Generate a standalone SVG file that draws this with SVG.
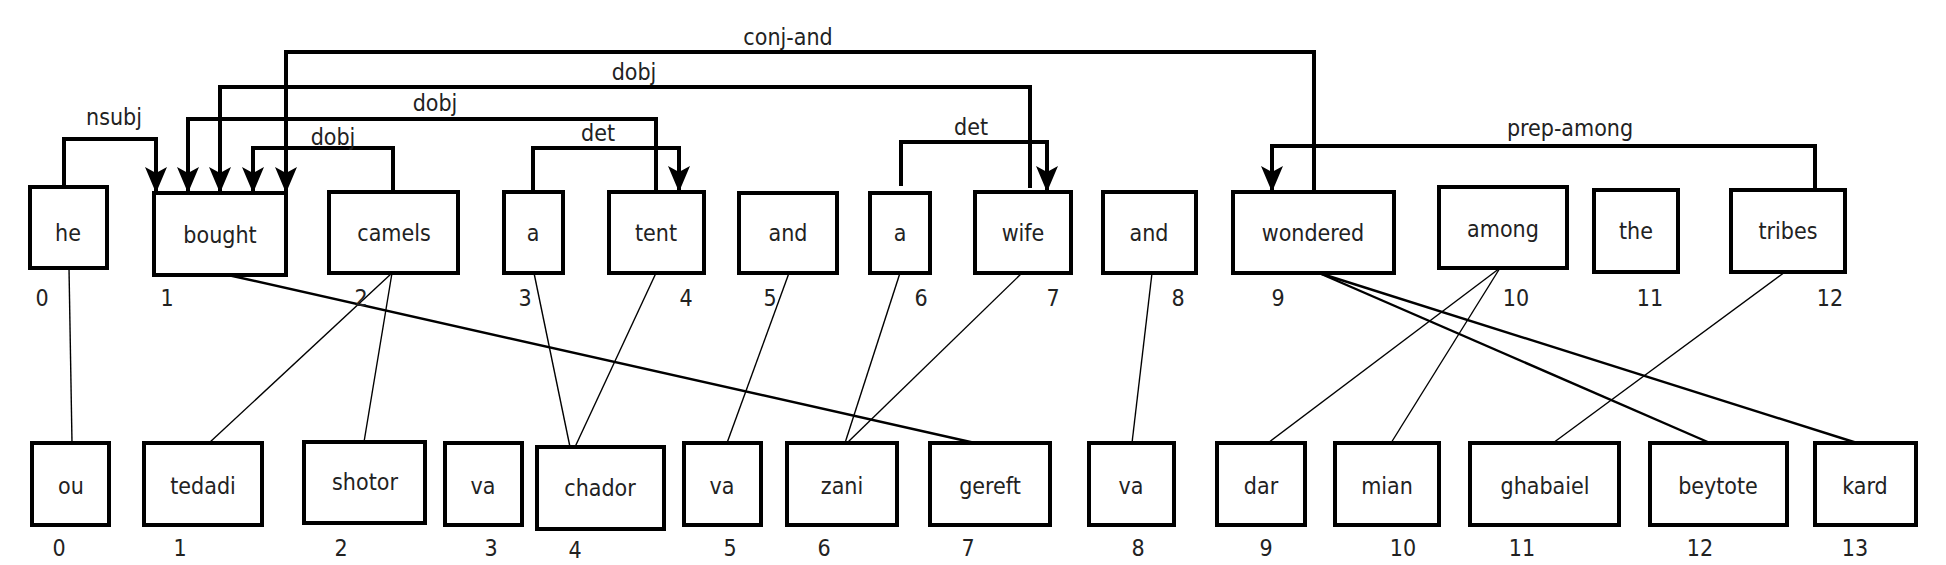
<svg xmlns="http://www.w3.org/2000/svg" width="1946" height="565" viewBox="0 0 1946 565">
<style>
.b{fill:#fff;stroke:#000;stroke-width:4}
.t{font-family:"DejaVu Sans Condensed","DejaVu Sans",sans-serif;font-size:23px;fill:#222;text-anchor:middle}
.e{fill:none;stroke:#000;stroke-width:4;marker-end:url(#ah)}
.al{fill:none;stroke:#000;stroke-width:1.4}
.ab{fill:none;stroke:#000;stroke-width:2.4}
</style>
<defs>
<marker id="ah" markerUnits="userSpaceOnUse" viewBox="0 0 26 22" refX="26" refY="11" markerWidth="26" markerHeight="22" orient="auto">
<path d="M0,0 L6,11 L0,22 L26,11 Z" fill="#000"/>
</marker>
</defs>
<rect width="1946" height="565" fill="#fff"/>
<g id="align">
<line class="al" x1="69" y1="268" x2="72" y2="443"/>
<line class="ab" x1="228" y1="275" x2="975" y2="443"/>
<line class="al" x1="392" y1="273" x2="209" y2="443"/>
<line class="al" x1="392" y1="273" x2="364" y2="442"/>
<line class="al" x1="534" y1="273" x2="570" y2="447"/>
<line class="al" x1="656" y1="273" x2="575" y2="447"/>
<line class="al" x1="789" y1="273" x2="727" y2="443"/>
<line class="al" x1="900" y1="273" x2="845" y2="443"/>
<line class="al" x1="1022" y1="273" x2="847" y2="443"/>
<line class="al" x1="1152" y1="273" x2="1132" y2="443"/>
<line class="ab" x1="1319" y1="273" x2="1710" y2="443"/>
<line class="ab" x1="1319" y1="273" x2="1857" y2="443"/>
<line class="al" x1="1500" y1="268" x2="1268" y2="443"/>
<line class="al" x1="1500" y1="268" x2="1391" y2="443"/>
<line class="al" x1="1785" y1="272" x2="1553" y2="443"/>
</g>
<g id="connectors">
<path class="e" d="M64,187 V139 H156 V193"/>
<path class="e" d="M393,192 V148 H253 V193"/>
<path class="e" d="M656,192 V119 H188 V193"/>
<path class="e" d="M1030,188 V87 H220 V193"/>
<path class="e" d="M1314,192 V52 H286 V193"/>
<path class="e" d="M533,192 V148 H679 V192"/>
<path class="e" d="M901,186 V142 H1047 V192"/>
<path class="e" d="M1815,190 V146 H1272 V192"/>
<text class="t" x="114" y="125">nsubj</text>
<text class="t" x="333" y="145">dobj</text>
<text class="t" x="435" y="111">dobj</text>
<text class="t" x="634" y="80">dobj</text>
<text class="t" x="788" y="45">conj-and</text>
<text class="t" x="598" y="141">det</text>
<text class="t" x="971" y="135">det</text>
<text class="t" x="1570" y="136">prep-among</text>
</g>
<g id="n_he"><rect class="b" x="30" y="187" width="77" height="81"/><text class="t" x="68" y="241">he</text><text class="t" x="42" y="306">0</text></g>
<g id="n_bought"><rect class="b" x="154" y="193" width="132" height="82"/><text class="t" x="220" y="243">bought</text><text class="t" x="167" y="306">1</text></g>
<g id="n_camels"><rect class="b" x="329" y="192" width="129" height="81"/><text class="t" x="394" y="241">camels</text><text class="t" x="361" y="306">2</text></g>
<g id="n_a3"><rect class="b" x="504" y="192" width="59" height="81"/><text class="t" x="533" y="241">a</text><text class="t" x="525" y="306">3</text></g>
<g id="n_tent"><rect class="b" x="609" y="192" width="95" height="81"/><text class="t" x="656" y="241">tent</text><text class="t" x="686" y="306">4</text></g>
<g id="n_and5"><rect class="b" x="739" y="193" width="98" height="80"/><text class="t" x="788" y="241">and</text><text class="t" x="770" y="306">5</text></g>
<g id="n_a6"><rect class="b" x="870" y="193" width="60" height="80"/><text class="t" x="900" y="241">a</text><text class="t" x="921" y="306">6</text></g>
<g id="n_wife"><rect class="b" x="975" y="192" width="96" height="81"/><text class="t" x="1023" y="241">wife</text><text class="t" x="1053" y="306">7</text></g>
<g id="n_and8"><rect class="b" x="1103" y="192" width="93" height="81"/><text class="t" x="1149" y="241">and</text><text class="t" x="1178" y="306">8</text></g>
<g id="n_wondered"><rect class="b" x="1233" y="192" width="161" height="81"/><text class="t" x="1313" y="241">wondered</text><text class="t" x="1278" y="306">9</text></g>
<g id="n_among"><rect class="b" x="1439" y="187" width="128" height="81"/><text class="t" x="1503" y="237">among</text><text class="t" x="1516" y="306">10</text></g>
<g id="n_the"><rect class="b" x="1594" y="190" width="84" height="82"/><text class="t" x="1636" y="239">the</text><text class="t" x="1650" y="306">11</text></g>
<g id="n_tribes"><rect class="b" x="1731" y="190" width="114" height="82"/><text class="t" x="1788" y="239">tribes</text><text class="t" x="1830" y="306">12</text></g>
<g id="n_ou"><rect class="b" x="32" y="443" width="77" height="82"/><text class="t" x="71" y="494">ou</text><text class="t" x="59" y="556">0</text></g>
<g id="n_tedadi"><rect class="b" x="144" y="443" width="118" height="82"/><text class="t" x="203" y="494">tedadi</text><text class="t" x="180" y="556">1</text></g>
<g id="n_shotor"><rect class="b" x="304" y="442" width="121" height="81"/><text class="t" x="365" y="490">shotor</text><text class="t" x="341" y="556">2</text></g>
<g id="n_va3"><rect class="b" x="445" y="443" width="77" height="82"/><text class="t" x="483" y="494">va</text><text class="t" x="491" y="556">3</text></g>
<g id="n_chador"><rect class="b" x="537" y="447" width="127" height="82"/><text class="t" x="600" y="496">chador</text><text class="t" x="575" y="558">4</text></g>
<g id="n_va5"><rect class="b" x="684" y="443" width="77" height="82"/><text class="t" x="722" y="494">va</text><text class="t" x="730" y="556">5</text></g>
<g id="n_zani"><rect class="b" x="787" y="443" width="110" height="82"/><text class="t" x="842" y="494">zani</text><text class="t" x="824" y="556">6</text></g>
<g id="n_gereft"><rect class="b" x="930" y="443" width="120" height="82"/><text class="t" x="990" y="494">gereft</text><text class="t" x="968" y="556">7</text></g>
<g id="n_va8"><rect class="b" x="1089" y="443" width="85" height="82"/><text class="t" x="1131" y="494">va</text><text class="t" x="1138" y="556">8</text></g>
<g id="n_dar"><rect class="b" x="1217" y="443" width="88" height="82"/><text class="t" x="1261" y="494">dar</text><text class="t" x="1266" y="556">9</text></g>
<g id="n_mian"><rect class="b" x="1335" y="443" width="104" height="82"/><text class="t" x="1387" y="494">mian</text><text class="t" x="1403" y="556">10</text></g>
<g id="n_ghabaiel"><rect class="b" x="1470" y="443" width="149" height="82"/><text class="t" x="1545" y="494">ghabaiel</text><text class="t" x="1522" y="556">11</text></g>
<g id="n_beytote"><rect class="b" x="1650" y="443" width="137" height="82"/><text class="t" x="1718" y="494">beytote</text><text class="t" x="1700" y="556">12</text></g>
<g id="n_kard"><rect class="b" x="1815" y="443" width="101" height="82"/><text class="t" x="1865" y="494">kard</text><text class="t" x="1855" y="556">13</text></g>
</svg>
